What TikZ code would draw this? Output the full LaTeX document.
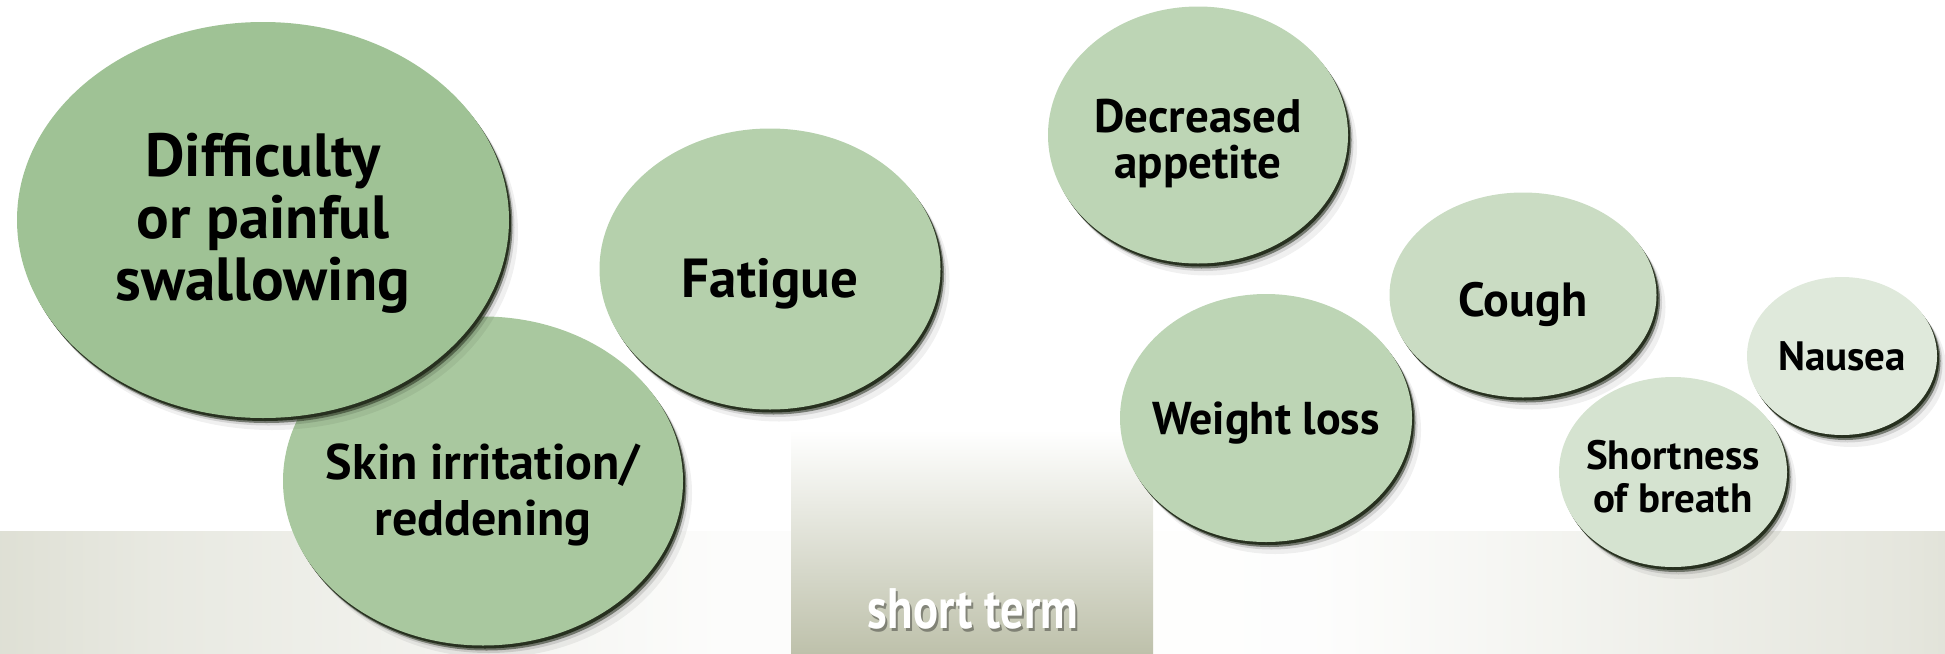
\documentclass[tikz,border=0pt]{standalone}
\usepackage{fontspec}
\setmainfont{PT Sans}
\newfontfamily\termfont[FakeStretch=0.82]{PT Sans}
\usetikzlibrary{shapes.geometric,shadows}

\definecolor{barcol}{HTML}{C6C8B5}
\definecolor{termcol}{HTML}{BEC1AB}
\definecolor{rimcol}{HTML}{27301F}
\definecolor{greenA}{HTML}{9FC295}
\definecolor{greenB}{HTML}{A9C89F}
\definecolor{greenC}{HTML}{B5D0AC}
\definecolor{greenD}{HTML}{BDD5B5}
\definecolor{greenE}{HTML}{CADCC3}
\definecolor{greenF}{HTML}{D5E3D0}
\definecolor{greenG}{HTML}{DFE9DB}

\pgfdeclarehorizontalshading{fadeleft}{100bp}{color(0bp)=(barcol); color(35bp)=(barcol!40!white); color(70bp)=(white!94!barcol); color(100bp)=(white)}
\pgfdeclarehorizontalshading{faderight}{100bp}{color(0bp)=(white); color(35bp)=(white!97!barcol); color(72bp)=(barcol!45!white); color(100bp)=(barcol)}

\newcommand{\bsize}[2]{\fontsize{#1}{#2}\selectfont\bfseries}

\begin{document}
\begin{tikzpicture}[x=1pt,y=-1pt]
	\tikzstyle{bubble}=[ellipse, inner sep=0pt,
		general shadow={shadow xshift=9pt, shadow yshift=-12pt, fill=black, opacity=.06},
		general shadow={shadow xshift=5.5pt, shadow yshift=-7.5pt, fill=black, opacity=.12},
		general shadow={shadow xshift=3.5pt, shadow yshift=-5pt, fill=rimcol, opacity=.55},
		general shadow={shadow xshift=2pt, shadow yshift=-3pt, fill=rimcol}]
	\tikzstyle{txt}=[align=center, inner sep=0pt]
	\tikzstyle{term}=[font=\termfont\bsize{57}{64}, inner sep=0pt]
	\useasboundingbox (0,0) rectangle (1945,653);
	% bars along the bottom
	\shade[shading=fadeleft] (0,531) rectangle (791,653);
	\shade[shading=faderight] (1153,531) rectangle (1945,653);
	\shade[top color=white, bottom color=termcol] (791,430) rectangle (1153,653);
	\node[term, text=black, opacity=.35] (termshadow) at (975,612) {short term};
	\node[term, text=white] (shortterm) at (973,609) {short term};
	% bubbles
	\node[bubble, fill=greenB, minimum width=400pt, minimum height=329pt] (skin) at (483,481) {};
	\node[bubble, fill=greenA, minimum width=492pt, minimum height=396pt] (swallow) at (263,220) {};
	\node[bubble, fill=greenC, minimum width=341pt, minimum height=281pt] (fatigue) at (770,269) {};
	\node[bubble, fill=greenD, minimum width=300pt, minimum height=257pt] (appetite) at (1198,135) {};
	\node[bubble, fill=greenD, minimum width=292pt, minimum height=248pt] (weight) at (1266,418) {};
	\node[bubble, fill=greenE, minimum width=267pt, minimum height=205pt] (cough) at (1523,295) {};
	\node[bubble, fill=greenG, minimum width=190pt, minimum height=158pt] (nausea) at (1842,356) {};
	\node[bubble, fill=greenF, minimum width=228pt, minimum height=190pt] (breath) at (1673,472) {};
	% texts
	\node[txt, font=\bsize{61}{62}] (swallowtxt) at ([yshift=-3pt]swallow.center) {Difficulty\\or painful\\swallowing};
	\node[txt, font=\bsize{50}{56}] (skintxt) at ([yshift=-14pt]skin.center) {Skin irritation/\\reddening};
	\node[txt, font=\bsize{55}{60}] (fatiguetxt) at ([yshift=-15pt]fatigue.center) {Fatigue};
	\node[txt, font=\bsize{47}{46}] (appetitetxt) at ([yshift=-9pt]appetite.center) {Decreased\\appetite};
	\node[txt, font=\bsize{46}{50}] (weighttxt) at ([yshift=-5pt]weight.center) {Weight loss};
	\node[txt, font=\bsize{48}{52}] (coughtxt) at ([yshift=-9pt]cough.center) {Cough};
	\node[txt, font=\bsize{41}{45}] (nauseatxt) at (nausea.center) {Nausea};
	\node[txt, font=\bsize{41}{43}] (breathtxt) at ([yshift=-5pt]breath.center) {Shortness\\of breath};
\end{tikzpicture}
\end{document}
